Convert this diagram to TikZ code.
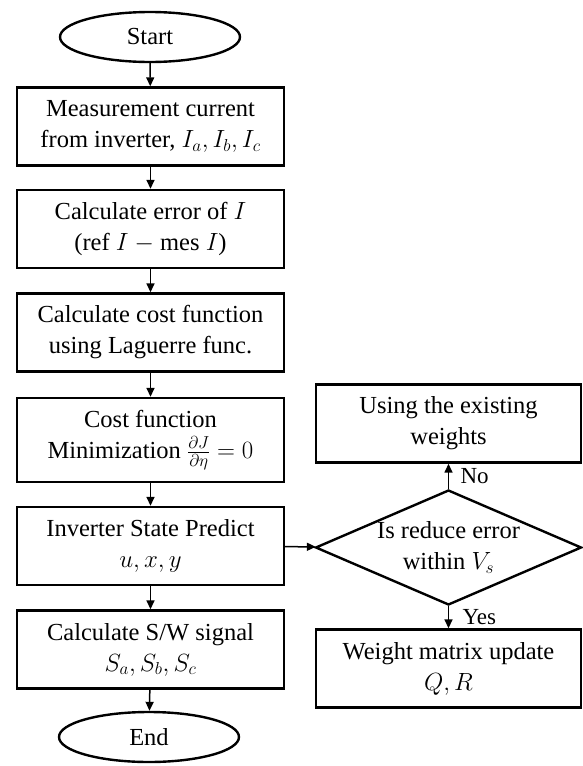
\documentclass[tikz,border=0pt]{standalone}
\usepackage{fontspec}
\setmainfont{Liberation Serif}
\usetikzlibrary{shapes.geometric,arrows.meta}

\tikzset{
  flowbox/.style={draw, line width=2.4pt, minimum width=267pt, minimum height=78pt,
    align=center, inner sep=2pt, font=\fontsize{24.5}{31}\selectfont},
  terminal/.style={draw, ellipse, line width=2.4pt, minimum width=180pt, minimum height=50pt,
    inner sep=0pt, font=\fontsize{24.5}{31}\selectfont},
  decision/.style={draw, diamond, line width=2.4pt, minimum width=266pt, minimum height=115pt,
    aspect=2.3, inner sep=0pt, align=center, font=\fontsize{24.5}{31}\selectfont},
  flow/.style={line width=1.5pt, -{Triangle[length=9pt,width=8pt]}},
  branch/.style={font=\fontsize{23}{26}\selectfont}
}

\begin{document}
\begin{tikzpicture}[x=1pt, y=-1pt]
  \useasboundingbox (0,0) rectangle (583,766);

  % main column
  \node[terminal] (start) at (150,37) {Start};
  \node[flowbox] (measure) at (150.5,126.5) {Measurement current\\from inverter, $I_a, I_b, I_c$};
  \node[flowbox] (error) at (150.5,229) {Calculate error of $I$\\(ref $I$ $-$ mes $I$)};
  \node[flowbox] (cost) at (150.5,332.5) {Calculate cost function\\using Laguerre func.};
  \node[flowbox, minimum height=84pt] (minim) at (150.5,440) {Cost function\\Minimization $\frac{\partial J}{\partial\eta}=0$};
  \node[flowbox] (predict) at (150.5,546) {Inverter State Predict\\$u, x, y$};
  \node[flowbox] (signal) at (150.5,649.5) {Calculate S/W signal\\$S_a, S_b, S_c$};
  \node[terminal] (end) at (149,737) {End};

  % weight check
  \node[decision] (check) at (448.5,547.5) {Is reduce error\\within $V_s$};
  \node[flowbox, minimum width=265pt] (keep) at (448.5,423.5) {Using the existing\\weights};
  \node[flowbox, minimum width=265pt] (update) at (448.5,668.5) {Weight matrix update\\$Q, R$};

  \draw[flow] (start) -- (measure);
  \draw[flow] (measure) -- (error);
  \draw[flow] (error) -- (cost);
  \draw[flow] (cost) -- (minim);
  \draw[flow] (minim) -- (predict);
  \draw[flow] (predict) -- (signal);
  \draw[flow] (signal) -- (end);
  \draw[flow] (predict) -- (check);
  \draw[flow] (check) -- node[branch, right=8pt] {No} (keep);
  \draw[flow] (check) -- node[branch, right=10pt] {Yes} (update);
\end{tikzpicture}
\end{document}
